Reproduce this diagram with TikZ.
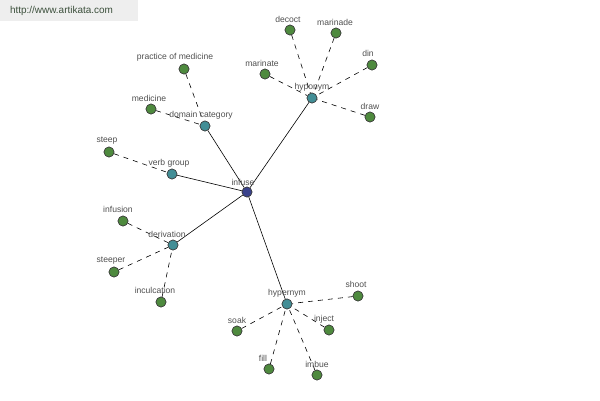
\documentclass[tikz,border=0pt]{standalone}
\usepackage{fontspec}
\setmainfont{Liberation Sans}
\definecolor{leafc}{RGB}{78,138,62}
\definecolor{relc}{RGB}{66,142,150}
\definecolor{rootc}{RGB}{58,66,140}
\definecolor{txtc}{RGB}{80,80,80}
\definecolor{wmbg}{RGB}{238,238,238}
\definecolor{wmtxt}{RGB}{60,80,60}
\tikzset{
  dot/.style={circle,draw=black!75,line width=0.6bp,minimum size=10bp,inner sep=0pt},
  leaf/.style={dot,fill=leafc},
  rel/.style={dot,fill=relc},
  root/.style={dot,fill=rootc},
  lbl/.style={text=txtc,font=\fontsize{8.6}{10}\selectfont,inner sep=0pt},
  solidedge/.style={draw=black,line width=0.6bp},
  dashedge/.style={draw=black,line width=0.6bp,dash pattern=on 5bp off 5bp},
}
\begin{document}
\begin{tikzpicture}[x=1bp,y=-1bp]
\useasboundingbox (0,0) rectangle (600,400);
\fill[white] (0,0) rectangle (600,400);
\fill[wmbg] (0,0) rectangle (138,21);
\node[text=wmtxt,font=\fontsize{10}{12}\selectfont,inner sep=0pt] (wm) at (61.5,11) {http://www.artikata.com};
% nodes
\node[root] (infuse) at (247,192) {};
\node[rel] (domcat) at (205,126) {};
\node[rel] (verbgroup) at (172,174) {};
\node[rel] (hyponym) at (312,98) {};
\node[rel] (derivation) at (173,245) {};
\node[rel] (hypernym) at (287,304) {};
\node[leaf] (practice) at (184,69) {};
\node[leaf] (medicine) at (151,109) {};
\node[leaf] (steep) at (109,152) {};
\node[leaf] (decoct) at (290,30) {};
\node[leaf] (marinade) at (336,33) {};
\node[leaf] (din) at (372,65) {};
\node[leaf] (draw) at (370,117) {};
\node[leaf] (marinate) at (265,74) {};
\node[leaf] (infusion) at (123,221) {};
\node[leaf] (steeper) at (114,272) {};
\node[leaf] (inculcation) at (161,302) {};
\node[leaf] (shoot) at (358,296) {};
\node[leaf] (soak) at (237,331) {};
\node[leaf] (inject) at (329,330) {};
\node[leaf] (fill) at (269,369) {};
\node[leaf] (imbue) at (317,375) {};
% edges
\draw[solidedge] (infuse) -- (domcat);
\draw[solidedge] (infuse) -- (verbgroup);
\draw[solidedge] (infuse) -- (hyponym);
\draw[solidedge] (infuse) -- (derivation);
\draw[solidedge] (infuse) -- (hypernym);
\draw[dashedge] (practice) -- (domcat);
\draw[dashedge] (medicine) -- (domcat);
\draw[dashedge] (steep) -- (verbgroup);
\draw[dashedge] (decoct) -- (hyponym);
\draw[dashedge] (marinade) -- (hyponym);
\draw[dashedge] (din) -- (hyponym);
\draw[dashedge] (draw) -- (hyponym);
\draw[dashedge] (marinate) -- (hyponym);
\draw[dashedge] (infusion) -- (derivation);
\draw[dashedge] (steeper) -- (derivation);
\draw[dashedge] (inculcation) -- (derivation);
\draw[dashedge] (shoot) -- (hypernym);
\draw[dashedge] (soak) -- (hypernym);
\draw[dashedge] (inject) -- (hypernym);
\draw[dashedge] (fill) -- (hypernym);
\draw[dashedge] (imbue) -- (hypernym);
% labels
\node[lbl] (l-infuse) at (243,182) {infuse};
\node[lbl] (l-domcat) at (201,115) {domain category};
\node[lbl] (l-verbgroup) at (169,163) {verb group};
\node[lbl] (l-hyponym) at (312,87) {hyponym};
\node[lbl] (l-derivation) at (167,234) {derivation};
\node[lbl] (l-hypernym) at (287,293) {hypernym};
\node[lbl] (l-practice) at (175,57) {practice of medicine};
\node[lbl] (l-medicine) at (149,98) {medicine};
\node[lbl] (l-steep) at (107,141) {steep};
\node[lbl] (l-decoct) at (288,19) {decoct};
\node[lbl] (l-marinade) at (335,22) {marinade};
\node[lbl] (l-din) at (368,53) {din};
\node[lbl] (l-draw) at (370,106) {draw};
\node[lbl] (l-marinate) at (262,63) {marinate};
\node[lbl] (l-infusion) at (118,209) {infusion};
\node[lbl] (l-steeper) at (111,261) {steeper};
\node[lbl] (l-inculcation) at (155,290) {inculcation};
\node[lbl] (l-shoot) at (356,284) {shoot};
\node[lbl] (l-soak) at (237,320) {soak};
\node[lbl] (l-inject) at (324,319) {inject};
\node[lbl] (l-fill) at (263,358) {fill};
\node[lbl] (l-imbue) at (317,364) {imbue};
% redraw dots on top of edges
\foreach \n/\s in {infuse/root,domcat/rel,verbgroup/rel,hyponym/rel,derivation/rel,hypernym/rel,
  practice/leaf,medicine/leaf,steep/leaf,decoct/leaf,marinade/leaf,din/leaf,draw/leaf,marinate/leaf,
  infusion/leaf,steeper/leaf,inculcation/leaf,shoot/leaf,soak/leaf,inject/leaf,fill/leaf,imbue/leaf}
  \node[\s] at (\n.center) {};
\end{tikzpicture}
\end{document}
